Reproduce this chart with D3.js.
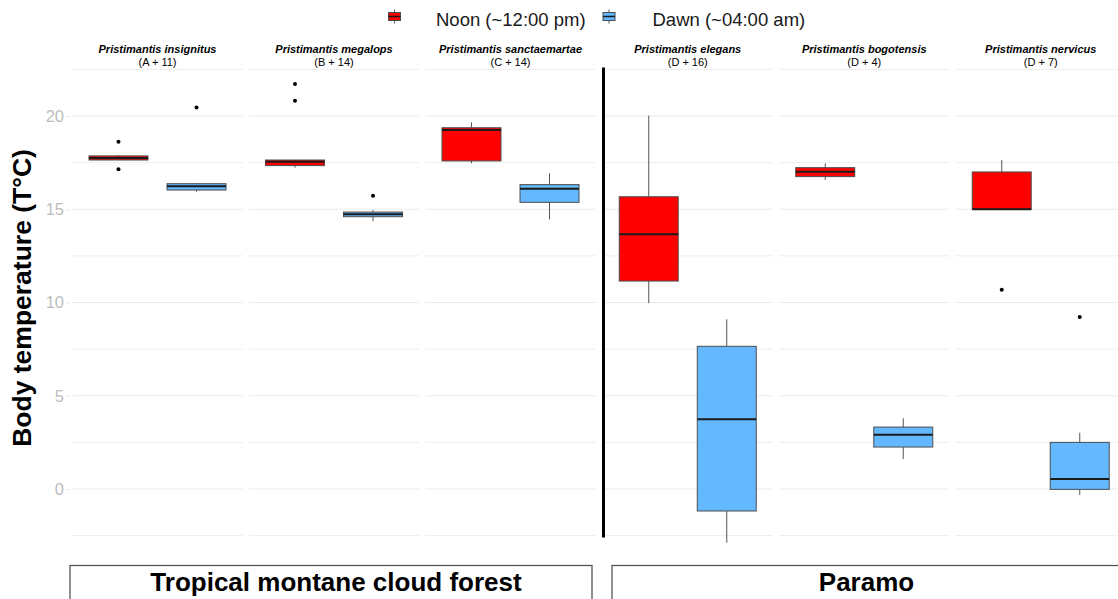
<!DOCTYPE html>
<html>
<head>
<meta charset="utf-8">
<script src="https://cdn.jsdelivr.net/npm/d3@7"></script>
<style>
  body { margin: 0; background: #fff; }
  svg { display: block; font-family: Arial, "Liberation Sans", sans-serif; }
</style>
</head>
<body>
<div id="chart"></div>
<script>
// species facets, left three are cloud forest, right three paramo
var species = ["Pristimantis insignitus", "Pristimantis megalops", "Pristimantis sanctaemartae",
               "Pristimantis elegans", "Pristimantis bogotensis", "Pristimantis nervicus"];
var sampleCodes = ["(A + 11)", "(B + 14)", "(C + 14)", "(D + 16)", "(D + 4)", "(D + 7)"];
var habitats = ["Tropical montane cloud forest", "Paramo"];
var periods = ["Noon (~12:00 pm)", "Dawn (~04:00 am)"];

// [lower whisker, q1, median, q3, upper whisker]
var noonBox = [
    [17.64, 17.64, 17.75, 17.86, 17.9],
    [17.23, 17.34, 17.55, 17.64, 17.64],
    [17.46, 17.59, 19.25, 19.37, 19.66],
    [9.96, 11.15, 13.66, 15.67, 20.02],
    [16.57, 16.75, 17.01, 17.23, 17.46],
    [15.0, 15.0, 15.0, 17.0, 17.64]
];
var dawnBox = [
    [15.94, 16.03, 16.23, 16.37, 16.4],
    [14.37, 14.6, 14.73, 14.85, 14.96],
    [14.46, 15.37, 16.1, 16.32, 16.93],
    [-2.88, -1.18, 3.74, 7.65, 9.1],
    [1.61, 2.25, 2.91, 3.32, 3.79],
    [-0.32, -0.02, 0.54, 2.5, 3.02]
];
var noonOutliers = [[18.62, 17.14], [21.72, 20.82], [], [], [], [10.69]];
var dawnOutliers = [[20.45], [15.73], [], [], [], [9.22]];

var yTicks = [0, 5, 10, 15, 20];
var gridValues = [-2.5, 0, 2.5, 5, 7.5, 10, 12.5, 15, 17.5, 20, 22.5];

var colors = { noon: "#FF0000", dawn: "#63B8FF" };

var width = 1118, height = 599;

var svg = d3.select("#chart").append("svg")
    .attr("width", width)
    .attr("height", height);

var y = d3.scaleLinear()
    .domain([0, 20])
    .range([489, 116]);

// facet positions, one band scale for each half
var facetLeft = d3.scaleBand()
    .domain(species.slice(0, 3))
    .range([72.5, 595.5])
    .paddingInner(0.0368);
var facetRight = d3.scaleBand()
    .domain(species.slice(3))
    .range([602.75, 1125.75])
    .paddingInner(0.0368);

function facetX(name) {
    return species.indexOf(name) < 3 ? facetLeft(name) : facetRight(name);
}
var facetW = facetLeft.bandwidth();

var inner = d3.scaleBand()
    .domain(["noon", "dawn"])
    .range([0, facetW])
    .paddingInner(0.244)
    .paddingOuter(0.2115);

// gridlines
species.forEach(function(name) {
    var x0 = facetX(name);
    svg.append("g")
        .attr("class", "grid")
      .selectAll("line")
        .data(gridValues)
        .enter()
      .append("line")
        .attr("x1", x0)
        .attr("x2", x0 + facetW)
        .attr("y1", function(d) { return y(d); })
        .attr("y2", function(d) { return y(d); })
        .attr("stroke", "#ebebeb")
        .attr("stroke-width", function(d) { return d % 5 === 0 ? 1.1 : 0.9; });
});

// y axis
var yAxis = d3.axisLeft(y)
    .tickValues(yTicks)
    .tickSize(3)
    .tickPadding(3);

var y_axis = svg.append("g")
    .attr("transform", "translate(70,0)")
    .call(yAxis);
y_axis.select(".domain").remove();
y_axis.selectAll(".tick line").attr("stroke", "#e0e0e0");
y_axis.selectAll(".tick text")
    .attr("fill", "#bdbdbd")
    .style("font-size", "16.5px");

svg.append("text")
    .attr("transform", "translate(31,298) rotate(-90)")
    .attr("text-anchor", "middle")
    .style("font-size", "26.5px")
    .style("font-weight", "bold")
    .text("Body temperature (T\u00b0C)");

// facet labels
species.forEach(function(name, i) {
    var cx = facetX(name) + facetW / 2;
    svg.append("text")
        .attr("x", cx)
        .attr("y", 53)
        .attr("text-anchor", "middle")
        .style("font-size", "11px")
        .style("font-weight", "bold")
        .style("font-style", "italic")
        .text(name);
    svg.append("text")
        .attr("x", cx)
        .attr("y", 66)
        .attr("text-anchor", "middle")
        .style("font-size", "11px")
        .text(sampleCodes[i]);
});

// boxes
function drawBox(name, key, stats, outliers) {
    var x0 = facetX(name) + inner(key);
    var bw = inner.bandwidth();
    var cx = x0 + bw / 2;
    var g = svg.append("g").attr("class", "box " + key);

    g.append("line")
        .attr("x1", cx).attr("x2", cx)
        .attr("y1", y(stats[4])).attr("y2", y(stats[3]))
        .attr("stroke", "#555").attr("stroke-width", 1);
    g.append("line")
        .attr("x1", cx).attr("x2", cx)
        .attr("y1", y(stats[1])).attr("y2", y(stats[0]))
        .attr("stroke", "#555").attr("stroke-width", 1);

    g.append("rect")
        .attr("x", x0)
        .attr("y", y(stats[3]))
        .attr("width", bw)
        .attr("height", Math.max(1, y(stats[1]) - y(stats[3])))
        .attr("fill", colors[key])
        .attr("stroke", "#4d4d4d")
        .attr("stroke-width", 1);

    g.append("line")
        .attr("x1", x0).attr("x2", x0 + bw)
        .attr("y1", y(stats[2])).attr("y2", y(stats[2]))
        .attr("stroke", "#1a1a1a").attr("stroke-width", 2);

    g.selectAll("circle")
        .data(outliers)
        .enter()
      .append("circle")
        .attr("cx", cx)
        .attr("cy", function(d) { return y(d); })
        .attr("r", 2)
        .attr("fill", "#000");
}

species.forEach(function(name, i) {
    drawBox(name, "noon", noonBox[i], noonOutliers[i]);
    drawBox(name, "dawn", dawnBox[i], dawnOutliers[i]);
});

// divider between habitats
svg.append("line")
    .attr("x1", 603.5).attr("x2", 603.5)
    .attr("y1", y(22.6)).attr("y2", y(-2.6))
    .attr("stroke", "#000")
    .attr("stroke-width", 3);

// habitat strips at the bottom
var strips = [
    { label: habitats[0], x1: 70, x2: 592, tx: 336 },
    { label: habitats[1], x1: 612, x2: 1121, tx: 866.5 }
];
strips.forEach(function(s) {
    svg.append("rect")
        .attr("x", s.x1)
        .attr("y", 565.5)
        .attr("width", s.x2 - s.x1)
        .attr("height", 60)
        .attr("fill", "#fff")
        .attr("stroke", "#555")
        .attr("stroke-width", 1.3);
    svg.append("text")
        .attr("x", s.tx)
        .attr("y", 591)
        .attr("text-anchor", "middle")
        .style("font-size", "26px")
        .style("font-weight", "bold")
        .text(s.label);
});

// legend
var legend = svg.append("g").attr("class", "legend");
var legendItems = [
    { key: "noon", kx: 394.5, tx: 436 },
    { key: "dawn", kx: 609, tx: 652.5 }
];
legendItems.forEach(function(d, i) {
    var ky = 16.5;
    legend.append("line")
        .attr("x1", d.kx).attr("x2", d.kx)
        .attr("y1", ky - 7).attr("y2", ky + 7)
        .attr("stroke", "#555");
    legend.append("rect")
        .attr("x", d.kx - 6).attr("y", ky - 4)
        .attr("width", 12).attr("height", 8)
        .attr("fill", colors[d.key])
        .attr("stroke", "#4d4d4d");
    legend.append("line")
        .attr("x1", d.kx - 6).attr("x2", d.kx + 6)
        .attr("y1", ky).attr("y2", ky)
        .attr("stroke", "#1a1a1a").attr("stroke-width", 1.5);
    legend.append("text")
        .attr("x", d.tx)
        .attr("y", 26)
        .style("font-size", "18.5px")
        .attr("fill", "#1a1a1a")
        .text(periods[i]);
});
</script>
</body>
</html>
